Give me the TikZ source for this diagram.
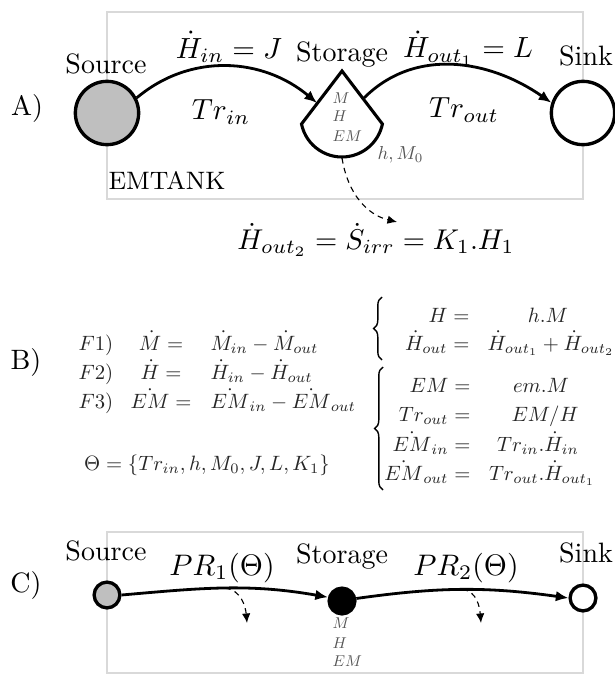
\documentclass[tikz,border=0pt]{standalone}
\usepackage{fix-cm}
\usepackage{amsmath}
\usepackage{graphicx}
\usetikzlibrary{arrows.meta,decorations.pathreplacing}
\definecolor{boxgray}{HTML}{D9D9D9}
\definecolor{srcgray}{HTML}{BFBFBF}
\definecolor{lblgray}{HTML}{555555}
\newcommand{\bsc}[1]{\scalebox{0.74}{$#1$}}
\newcommand{\msc}[1]{\scalebox{1.04}{$#1$}}
\newcommand{\vsc}[1]{\scalebox{0.56}{$#1$}}
\begin{document}
\begin{tikzpicture}[x=0.357pt,y=0.357pt,
  frame/.style={draw=boxgray,line width=0.8pt},
  nodecirc/.style={circle,draw=black,line width=1.2pt,inner sep=0pt,minimum size=22.6pt},
  smallcirc/.style={circle,draw=black,line width=1.2pt,inner sep=0pt,minimum size=9.2pt},
  txt/.style={inner sep=0pt,font=\fontsize{10}{12}\selectfont},
  mth/.style={inner sep=0pt,font=\fontsize{10}{12}\selectfont},
  eqn/.style={inner sep=0pt,font=\fontsize{10}{12}\selectfont,text=black!85},
  var/.style={inner sep=0pt,anchor=base west,font=\fontsize{10}{12}\selectfont,text=lblgray},
  flow/.style={line width=1pt,-{Latex[length=4.5pt,width=3.8pt]}},
  loss/.style={line width=0.4pt,dash pattern=on 2pt off 1.6pt,-{Latex[length=3.4pt,width=3pt]}},
  bracestyle/.style={line width=0.5pt,decorate,decoration={brace,amplitude=3pt}},
]
\useasboundingbox (0,0) rectangle (614,-675);

% ---------- Panel A ----------
\draw[frame] (107,-12) rectangle (583,-199);
\node[nodecirc,fill=srcgray] (src) at (107,-113) {};
\node[nodecirc,fill=white] (snk) at (583,-113) {};
\coordinate (apex) at (342,-71);
\draw[line width=1.1pt,fill=white] (apex) -- (301.5,-124)
  arc[start angle=191.6,end angle=348.4,radius=41.3] -- cycle;
\coordinate (inpt) at (317,-103);
\coordinate (outpt) at (364,-98);
\coordinate (stbot) at (342,-158);
\coordinate (lossend) at (397,-222);

\node[txt,anchor=base] (srcl) at (106,-74) {Source};
\node[txt,anchor=base] (stl) at (342,-62) {Storage};
\node[txt,anchor=base] (snkl) at (586,-66) {Sink};
\node[txt] (la) at (27,-108) {A)};
\node[txt,anchor=base west,font=\fontsize{9}{11}\selectfont] (emt) at (108,-190) {EMTANK};
\node[var] (stm) at (332,-103) {\vsc{M}};
\node[var] (sth) at (332,-122) {\vsc{H}};
\node[var] (ste) at (332,-141) {\vsc{EM}};
\node[inner sep=0pt,text=lblgray,anchor=west] (hm) at (377,-155) {\scalebox{0.67}{$h,M_0$}};

\draw[flow] (src.27) to[out=40,in=140] (inpt);
\draw[flow] (outpt) to[out=45,in=145] (snk.162);
\draw[loss] (stbot) .. controls (348,-195) and (368,-215) .. (lossend);

\node[mth] (hin) at (229,-47) {\msc{\dot H_{in}=J}};
\node[mth] (trin) at (221,-112) {\msc{Tr_{in}}};
\node[mth] (hout1) at (468,-48) {\msc{\dot H_{out_1}=L}};
\node[mth] (trout) at (464,-110) {\msc{Tr_{out}}};
\node[mth] (hout2) at (376,-240) {\scalebox{1.02}{$\dot H_{out_2}=\dot S_{irr}=K_1.H_1$}};

% ---------- Panel B ----------
\node[txt] (lb) at (26,-362) {B)};
\node[eqn,anchor=base west] (f1) at (78,-350) {\bsc{F1)}};
\node[eqn,anchor=base] (f1l) at (161,-350) {\bsc{\dot M =}};
\node[eqn,anchor=base west] (f1r) at (210,-350) {\bsc{\dot M_{in}-\dot M_{out}}};
\node[eqn,anchor=base west] (f2) at (78,-379) {\bsc{F2)}};
\node[eqn,anchor=base] (f2l) at (161,-379) {\bsc{\dot H =}};
\node[eqn,anchor=base west] (f2r) at (210,-379) {\bsc{\dot H_{in}-\dot H_{out}}};
\node[eqn,anchor=base west] (f3) at (78,-408) {\bsc{F3)}};
\node[eqn,anchor=base] (f3l) at (161,-408) {\bsc{\dot{EM} =}};
\node[eqn,anchor=base west] (f3r) at (210,-408) {\bsc{\dot{EM}_{in}-\dot{EM}_{out}}};
\node[eqn,anchor=base] (theta) at (207,-470) {\bsc{\Theta=\{Tr_{in},h,M_0,J,L,K_1\}}};

\coordinate (b1bot) at (382,-360);
\coordinate (b1top) at (382,-297);
\draw[bracestyle] (b1bot) -- (b1top);
\node[eqn,anchor=base east] (r1l) at (470,-322) {\bsc{H =}};
\node[eqn,anchor=base] (r1r) at (548,-322) {\bsc{h.M}};
\node[eqn,anchor=base east] (r2l) at (470,-350) {\bsc{\dot H_{out} =}};
\node[eqn,anchor=base] (r2r) at (551,-350) {\bsc{\dot H_{out_1}+\dot H_{out_2}}};

\coordinate (b2bot) at (383,-490);
\coordinate (b2top) at (383,-367);
\draw[bracestyle] (b2bot) -- (b2top);
\node[eqn,anchor=base east] (r3l) at (471,-392) {\bsc{EM =}};
\node[eqn,anchor=base] (r3r) at (541,-392) {\bsc{em.M}};
\node[eqn,anchor=base east] (r4l) at (471,-421) {\bsc{Tr_{out} =}};
\node[eqn,anchor=base] (r4r) at (545,-421) {\bsc{EM/H}};
\node[eqn,anchor=base east] (r5l) at (471,-451) {\bsc{\dot{EM}_{in} =}};
\node[eqn,anchor=base] (r5r) at (538,-451) {\bsc{Tr_{in}.\dot H_{in}}};
\node[eqn,anchor=base east] (r6l) at (471,-480) {\bsc{\dot{EM}_{out} =}};
\node[eqn,anchor=base] (r6r) at (542,-480) {\bsc{Tr_{out}.\dot H_{out_1}}};

% ---------- Panel C ----------
\draw[frame] (107,-532) rectangle (583,-673);
\node[smallcirc,fill=srcgray] (srcC) at (107,-595) {};
\node[smallcirc,fill=black] (stC) at (342,-601) {};
\node[smallcirc,fill=white] (snkC) at (583,-598) {};
\node[txt,anchor=base] (srcCl) at (106,-560) {Source};
\node[txt,anchor=base] (stCl) at (342,-563) {Storage};
\node[txt,anchor=base] (snkCl) at (586,-562) {Sink};
\node[txt] (lc) at (26,-585) {C)};
\node[var] (stCm) at (332,-628) {\vsc{M}};
\node[var] (stCh) at (332,-648) {\vsc{H}};
\node[var] (stCe) at (332,-666) {\vsc{EM}};
\coordinate (d1e) at (247,-623);
\coordinate (d2e) at (481,-623);
\draw[flow] (srcC.east) to[out=5,in=170] coordinate[pos=0.5] (d1) (stC.165);
\draw[flow] (stC.10) to[out=8,in=172] coordinate[pos=0.5] (d2) (snkC.west);
\draw[loss] (d1) to[out=-5,in=95] (d1e);
\draw[loss] (d2) to[out=-5,in=95] (d2e);
\node[mth] (pr1) at (222,-568) {\scalebox{1.06}{$PR_1(\Theta)$}};
\node[mth] (pr2) at (466,-568) {\scalebox{1.06}{$PR_2(\Theta)$}};
\end{tikzpicture}
\end{document}
